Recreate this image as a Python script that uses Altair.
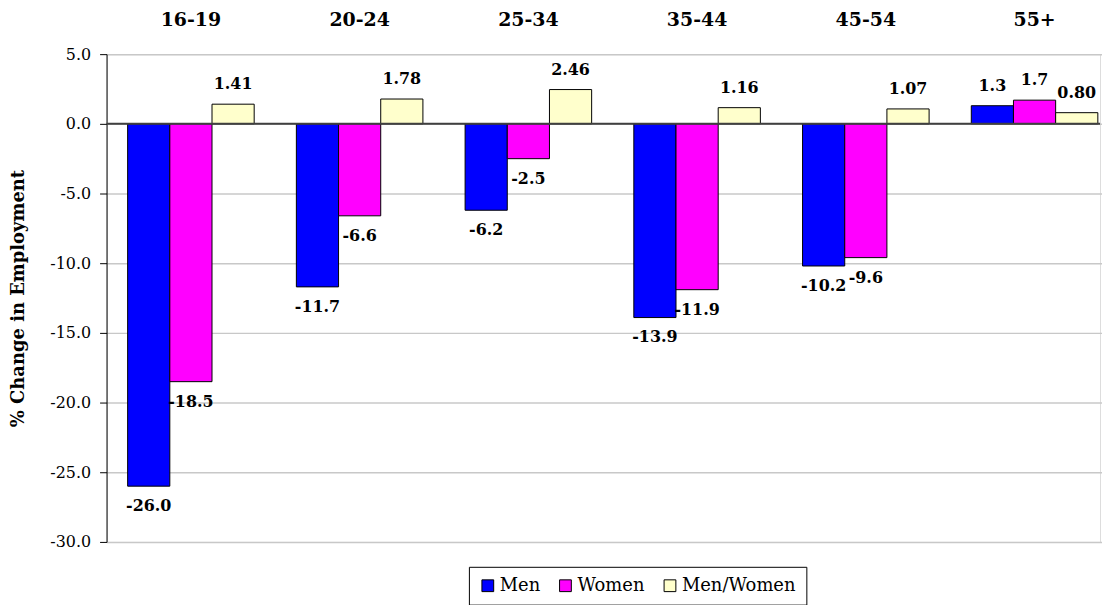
import altair as alt
import pandas as pd

groups = ["16-19", "20-24", "25-34", "35-44", "45-54", "55+"]
series = ["Men", "Women", "Men/Women"]
men = [-26.0, -11.7, -6.2, -13.9, -10.2, 1.3]
women = [-18.5, -6.6, -2.5, -11.9, -9.6, 1.7]
ratio = [1.41, 1.78, 2.46, 1.16, 1.07, 0.80]
colors = ["#0000FF", "#FF00FF", "#FFFFCC"]

rows = []
for name, vals, fmt in [(series[0], men, "{:.1f}"), (series[1], women, "{:.1f}"), (series[2], ratio, "{:.2f}")]:
    for g, v in zip(groups, vals):
        rows.append({"group": g, "series": name, "value": v, "label": fmt.format(v)})
df = pd.DataFrame(rows)

# Liberation Serif is not picked up here, DejaVu Serif is the serif that renders
FONT = "DejaVu Serif"

base = alt.Chart(df).encode(
    x=alt.X(
        "group:N",
        sort=groups,
        scale=alt.Scale(range=[0, 1017], paddingInner=0.25, paddingOuter=0.125),
        axis=alt.Axis(
            orient="top", title=None, domain=False, ticks=False, labelAngle=0,
            labelFont=FONT, labelFontSize=19, labelFontWeight="bold",
            labelColor="black", labelPadding=25, grid=False,
        ),
    ),
    xOffset=alt.XOffset("series:N", sort=series, scale=alt.Scale(paddingInner=0, paddingOuter=0)),
    y=alt.Y(
        "value:Q",
        scale=alt.Scale(domain=[-30, 5], nice=False, zero=False),
        axis=alt.Axis(
            title="% Change in Employment", values=[5, 0, -5, -10, -15, -20, -25, -30],
            labelExpr="(datum.value < 0 ? '-' : '') + format(abs(datum.value), '.1f')",
            labelFont=FONT, labelFontSize=16, labelColor="black", labelPadding=9,
            tickSize=7, tickColor="black", domainColor="black",
            gridColor="#c8c8c8", gridWidth=1.5,
            titleFont=FONT, titleFontSize=18, titleFontWeight="bold", titleColor="black",
            titleX=-88, titleY=245, titleAlign="center", titleBaseline="middle", titleAngle=-90,
        ),
    ),
)

bars = base.mark_bar(stroke="black", strokeWidth=1).encode(
    color=alt.Color(
        "series:N",
        sort=series,
        scale=alt.Scale(domain=series, range=colors),
        legend=alt.Legend(
            title=None, orient="none", legendX=364, legendY=515, direction="horizontal",
            strokeColor="black", fillColor="white", padding=10,
            symbolType="square", symbolSize=140, symbolStrokeColor="black", symbolStrokeWidth=1,
            symbolOpacity=1, labelFont=FONT, labelFontSize=18, labelColor="black",
            labelOffset=3, columnPadding=16,
        ),
    )
)

text_style = dict(font=FONT, fontSize=16, fontWeight="bold", color="black", baseline="middle", align="center")
pos_labels = base.transform_filter(alt.datum.value >= 0).mark_text(dy=-20, **text_style).encode(text="label:N")
neg_labels = base.transform_filter(alt.datum.value < 0).mark_text(dy=20, **text_style).encode(text="label:N")

zero = alt.Chart(pd.DataFrame({"v": [0]})).mark_rule(color="#404040", strokeWidth=2).encode(
    y="v:Q", x=alt.value(0), x2=alt.value(998)
)

chart = (
    alt.layer(bars, zero, pos_labels, neg_labels)
    .properties(
        width=998, height=490, autosize="none",
        padding={"left": 99, "top": 45, "right": 2, "bottom": 62},
    )
    .configure_view(stroke=None)
    .configure(font=FONT)
)

chart.save("out.html", embed_options={"renderer": "svg", "actions": False})
